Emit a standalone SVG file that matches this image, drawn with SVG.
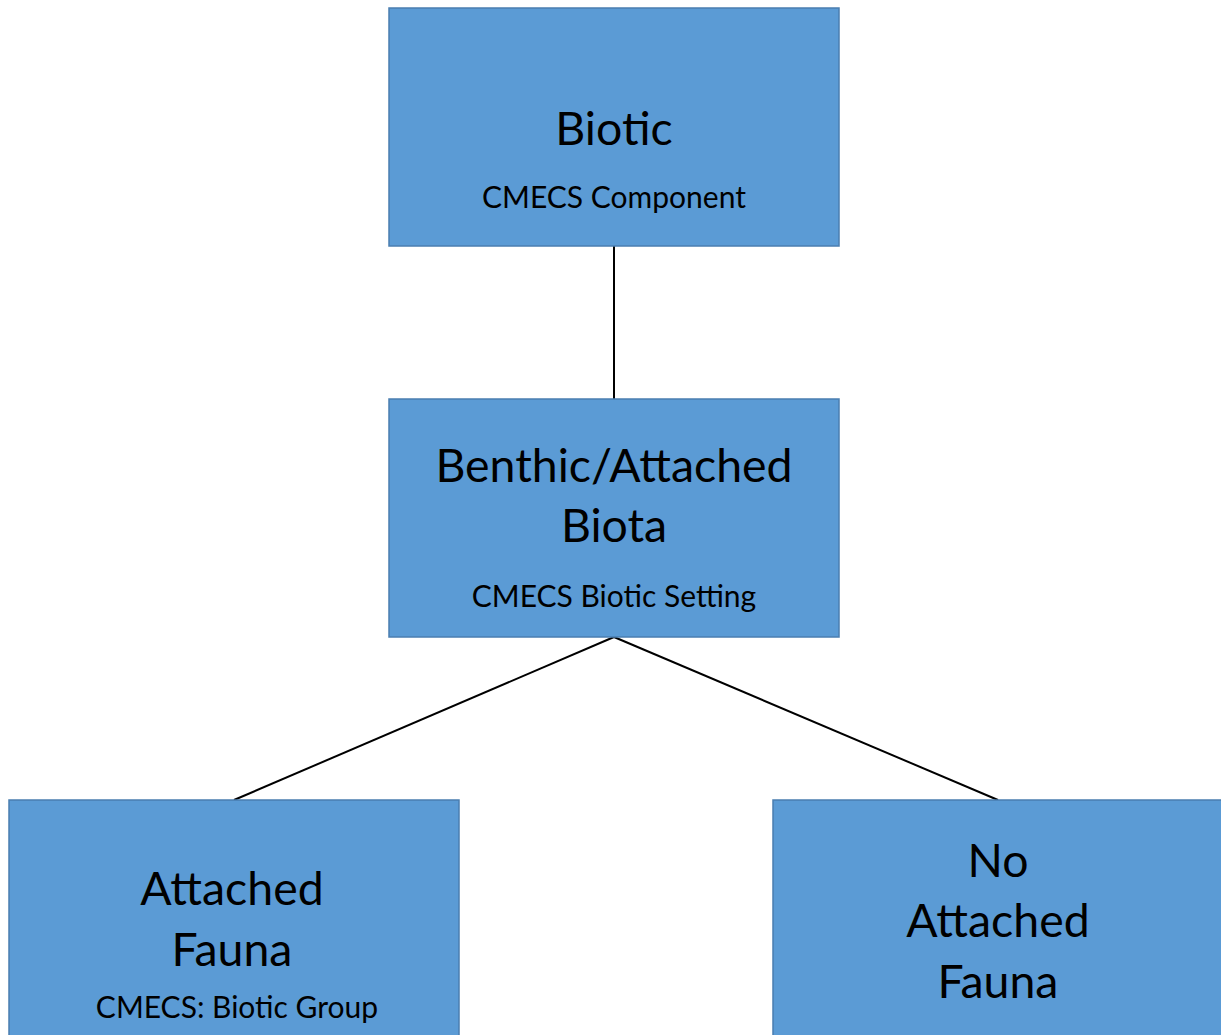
<svg xmlns="http://www.w3.org/2000/svg" width="1221" height="1035" viewBox="0 0 1221 1035">
<style>
.box{fill:#5B9BD5;stroke:#4A7EB0;stroke-width:1.5}
.t{font-family:Lato,"Open Sans",sans-serif;font-size:46.4px;fill:#000;text-anchor:middle}
.s{font-family:Lato,"Open Sans",sans-serif;font-size:30px;fill:#000;text-anchor:middle}
.c{stroke:#000;stroke-width:2;fill:none}
</style>
<rect width="1221" height="1035" fill="#fff"/>
<g id="connectors">
<line class="c" x1="614" y1="246" x2="614" y2="399"/>
<line class="c" x1="614" y1="637" x2="234" y2="800"/>
<line class="c" x1="614" y1="637" x2="998" y2="800"/>
</g>
<g id="biotic">
<rect class="box" x="389" y="8" width="450" height="238"/>
<text class="t" x="614" y="145">Biotic</text>
<text class="s" x="614" y="208">CMECS Component</text>
</g>
<g id="benthic">
<rect class="box" x="389" y="399" width="450" height="238"/>
<text class="t" x="614" y="482">Benthic/Attached</text>
<text class="t" x="614" y="542">Biota</text>
<text class="s" x="614" y="607">CMECS Biotic Setting</text>
</g>
<g id="attached">
<rect class="box" x="9" y="800" width="450" height="245"/>
<text class="t" x="232" y="905">Attached</text>
<text class="t" x="232" y="966">Fauna</text>
<text class="s" x="237" y="1018">CMECS: Biotic Group</text>
</g>
<g id="noattached">
<rect class="box" x="773" y="800" width="460" height="245"/>
<text class="t" x="998" y="877">No</text>
<text class="t" x="998" y="937">Attached</text>
<text class="t" x="998" y="998">Fauna</text>
</g>
</svg>
